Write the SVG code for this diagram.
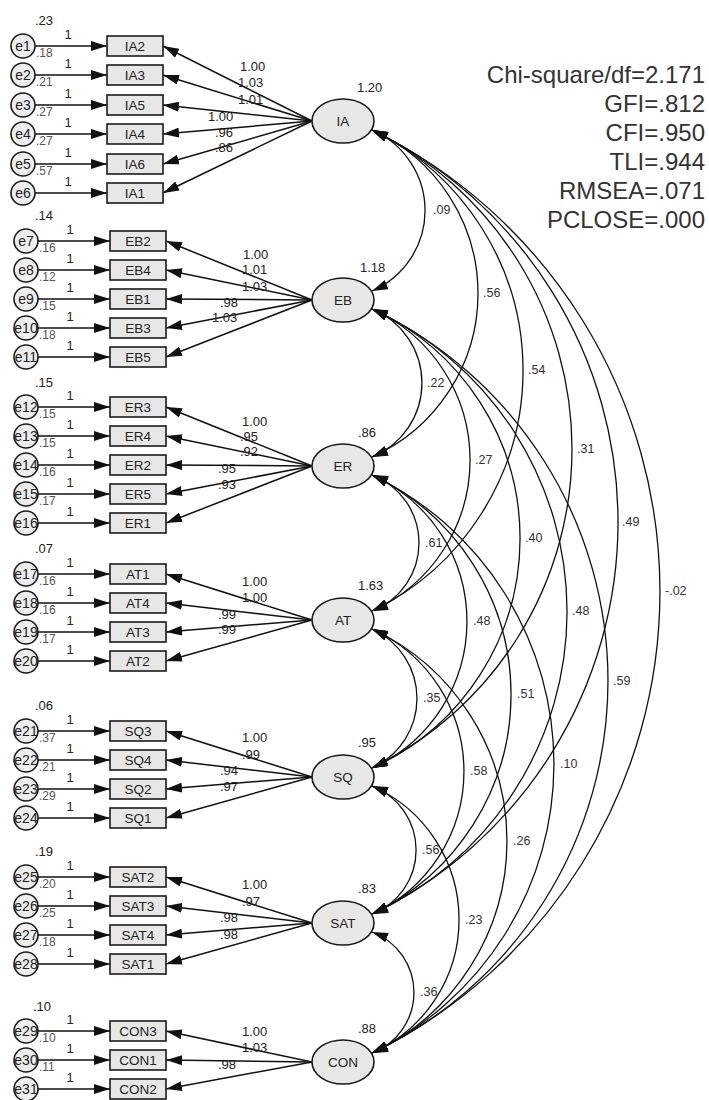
<svg xmlns="http://www.w3.org/2000/svg" width="709" height="1100" viewBox="0 0 709 1100">
<style>
text{font-family:"Liberation Sans",Arial,sans-serif;fill:#222}
.box{fill:#e7e8e6;stroke:#1a1a1a;stroke-width:1.6}
.lat{fill:#e7e8e6;stroke:#1a1a1a;stroke-width:1.6}
.err{fill:#eeeeee;stroke:#1a1a1a;stroke-width:1.6}
.ln{stroke:#111;stroke-width:1.5;fill:none;marker-end:url(#ah)}
.cov{stroke:#111;stroke-width:1.3;fill:none;marker-start:url(#ah);marker-end:url(#ah)}
.bl{font-size:13.5px;text-anchor:middle}
.ll{font-size:13.5px;text-anchor:middle}
.el{font-size:14px;text-anchor:middle}
.n{font-size:13px}
.one{font-size:13px;text-anchor:middle}
.ev{font-size:12px;fill:#555}
.cl{font-size:12.5px;fill:#333}
.fit{font-size:24px;text-anchor:end;fill:#333}
</style>
<defs>
<marker id="ah" viewBox="0 0 16 10" refX="16" refY="5" markerWidth="16" markerHeight="10" markerUnits="userSpaceOnUse" orient="auto-start-reverse"><path d="M0,0 L16,5 L0,10 z" fill="#111"/></marker>
</defs>

<g id="connectors">
<line class="ln" x1="35" y1="46" x2="107" y2="46"/>
<line class="ln" x1="35" y1="75" x2="107" y2="75"/>
<line class="ln" x1="35" y1="105" x2="107" y2="105"/>
<line class="ln" x1="35" y1="134" x2="107" y2="134"/>
<line class="ln" x1="35" y1="164" x2="107" y2="164"/>
<line class="ln" x1="35" y1="193" x2="107" y2="193"/>
<line class="ln" x1="38" y1="241" x2="110" y2="241"/>
<line class="ln" x1="38" y1="270" x2="110" y2="270"/>
<line class="ln" x1="38" y1="299" x2="110" y2="299"/>
<line class="ln" x1="38" y1="328" x2="110" y2="328"/>
<line class="ln" x1="38" y1="357" x2="110" y2="357"/>
<line class="ln" x1="38" y1="407" x2="110" y2="407"/>
<line class="ln" x1="38" y1="436" x2="110" y2="436"/>
<line class="ln" x1="38" y1="465" x2="110" y2="465"/>
<line class="ln" x1="38" y1="494" x2="110" y2="494"/>
<line class="ln" x1="38" y1="523" x2="110" y2="523"/>
<line class="ln" x1="38" y1="574" x2="110" y2="574"/>
<line class="ln" x1="38" y1="603" x2="110" y2="603"/>
<line class="ln" x1="38" y1="632" x2="110" y2="632"/>
<line class="ln" x1="38" y1="661" x2="110" y2="661"/>
<line class="ln" x1="38" y1="731" x2="110" y2="731"/>
<line class="ln" x1="38" y1="760" x2="110" y2="760"/>
<line class="ln" x1="38" y1="789" x2="110" y2="789"/>
<line class="ln" x1="38" y1="818" x2="110" y2="818"/>
<line class="ln" x1="38" y1="877" x2="110" y2="877"/>
<line class="ln" x1="38" y1="906" x2="110" y2="906"/>
<line class="ln" x1="38" y1="935" x2="110" y2="935"/>
<line class="ln" x1="38" y1="964" x2="110" y2="964"/>
<line class="ln" x1="38" y1="1031" x2="110" y2="1031"/>
<line class="ln" x1="38" y1="1060" x2="110" y2="1060"/>
<line class="ln" x1="38" y1="1089" x2="110" y2="1089"/>
<line class="ln" x1="312" y1="121" x2="163" y2="46"/>
<line class="ln" x1="312" y1="121" x2="163" y2="75"/>
<line class="ln" x1="312" y1="121" x2="163" y2="105"/>
<line class="ln" x1="312" y1="121" x2="163" y2="134"/>
<line class="ln" x1="312" y1="121" x2="163" y2="164"/>
<line class="ln" x1="312" y1="121" x2="163" y2="193"/>
<line class="ln" x1="312" y1="300" x2="166" y2="241"/>
<line class="ln" x1="312" y1="300" x2="166" y2="270"/>
<line class="ln" x1="312" y1="300" x2="166" y2="299"/>
<line class="ln" x1="312" y1="300" x2="166" y2="328"/>
<line class="ln" x1="312" y1="300" x2="166" y2="357"/>
<line class="ln" x1="312" y1="466" x2="166" y2="407"/>
<line class="ln" x1="312" y1="466" x2="166" y2="436"/>
<line class="ln" x1="312" y1="466" x2="166" y2="465"/>
<line class="ln" x1="312" y1="466" x2="166" y2="494"/>
<line class="ln" x1="312" y1="466" x2="166" y2="523"/>
<line class="ln" x1="312" y1="620" x2="166" y2="574"/>
<line class="ln" x1="312" y1="620" x2="166" y2="603"/>
<line class="ln" x1="312" y1="620" x2="166" y2="632"/>
<line class="ln" x1="312" y1="620" x2="166" y2="661"/>
<line class="ln" x1="312" y1="777" x2="166" y2="731"/>
<line class="ln" x1="312" y1="777" x2="166" y2="760"/>
<line class="ln" x1="312" y1="777" x2="166" y2="789"/>
<line class="ln" x1="312" y1="777" x2="166" y2="818"/>
<line class="ln" x1="312" y1="923" x2="166" y2="877"/>
<line class="ln" x1="312" y1="923" x2="166" y2="906"/>
<line class="ln" x1="312" y1="923" x2="166" y2="935"/>
<line class="ln" x1="312" y1="923" x2="166" y2="964"/>
<line class="ln" x1="312" y1="1062" x2="166" y2="1031"/>
<line class="ln" x1="312" y1="1062" x2="166" y2="1060"/>
<line class="ln" x1="312" y1="1062" x2="166" y2="1089"/>
<path class="cov" d="M372,130 A87.6,87.6 0 0 1 372,291"/>
<path class="cov" d="M372,130 A179.1,179.1 0 0 1 372,457"/>
<path class="cov" d="M372,130 A267,267 0 0 1 372,611"/>
<path class="cov" d="M372,130 A354.4,354.4 0 0 1 372,768"/>
<path class="cov" d="M372,130 A435.3,435.3 0 0 1 372,914"/>
<path class="cov" d="M372,130 A513.8,513.8 0 0 1 372,1053"/>
<path class="cov" d="M372,309 A79.8,79.8 0 0 1 372,457"/>
<path class="cov" d="M372,309 A165.3,165.3 0 0 1 372,611"/>
<path class="cov" d="M372,309 A251.9,251.9 0 0 1 372,768"/>
<path class="cov" d="M372,309 A332.1,332.1 0 0 1 372,914"/>
<path class="cov" d="M372,309 A411.2,411.2 0 0 1 372,1053"/>
<path class="cov" d="M372,475 A72.7,72.7 0 0 1 372,611"/>
<path class="cov" d="M372,475 A160.5,160.5 0 0 1 372,768"/>
<path class="cov" d="M372,475 A242.8,242.8 0 0 1 372,914"/>
<path class="cov" d="M372,475 A320.5,320.5 0 0 1 372,1053"/>
<path class="cov" d="M372,629 A76.2,76.2 0 0 1 372,768"/>
<path class="cov" d="M372,629 A156.4,156.4 0 0 1 372,914"/>
<path class="cov" d="M372,629 A234,234 0 0 1 372,1053"/>
<path class="cov" d="M372,786 A68.5,68.5 0 0 1 372,914"/>
<path class="cov" d="M372,786 A145.9,145.9 0 0 1 372,1053"/>
<path class="cov" d="M372,932 A64.6,64.6 0 0 1 372,1053"/>
<text class="cl" x="433" y="214">.09</text>
<text class="cl" x="483" y="297">.56</text>
<text class="cl" x="528" y="374">.54</text>
<text class="cl" x="577" y="453">.31</text>
<text class="cl" x="622" y="526">.49</text>
<text class="cl" x="665" y="595">-.02</text>
<text class="cl" x="427" y="387">.22</text>
<text class="cl" x="475" y="464">.27</text>
<text class="cl" x="525" y="542">.40</text>
<text class="cl" x="572" y="615">.48</text>
<text class="cl" x="613" y="685">.59</text>
<text class="cl" x="425" y="547">.61</text>
<text class="cl" x="473" y="625">.48</text>
<text class="cl" x="517" y="698">.51</text>
<text class="cl" x="560" y="768">.10</text>
<text class="cl" x="423" y="702">.35</text>
<text class="cl" x="470" y="775">.58</text>
<text class="cl" x="513" y="845">.26</text>
<text class="cl" x="422" y="854">.56</text>
<text class="cl" x="465" y="924">.23</text>
<text class="cl" x="420" y="996">.36</text>
<text class="n" x="240" y="71">1.00</text>
<text class="n" x="238" y="87">1.03</text>
<text class="n" x="238" y="104">1.01</text>
<text class="n" x="208" y="121">1.00</text>
<text class="n" x="215" y="137">.96</text>
<text class="n" x="215" y="152">.86</text>
<text class="n" x="243" y="259">1.00</text>
<text class="n" x="242" y="274">1.01</text>
<text class="n" x="242" y="291">1.03</text>
<text class="n" x="220" y="307">.98</text>
<text class="n" x="212" y="322">1.03</text>
<text class="n" x="242" y="426">1.00</text>
<text class="n" x="240" y="441">.95</text>
<text class="n" x="240" y="456">.92</text>
<text class="n" x="218" y="473">.95</text>
<text class="n" x="218" y="489">.93</text>
<text class="n" x="242" y="586">1.00</text>
<text class="n" x="242" y="602">1.00</text>
<text class="n" x="218" y="619">.99</text>
<text class="n" x="218" y="634">.99</text>
<text class="n" x="242" y="742">1.00</text>
<text class="n" x="242" y="759">.99</text>
<text class="n" x="220" y="775">.94</text>
<text class="n" x="220" y="791">.97</text>
<text class="n" x="242" y="889">1.00</text>
<text class="n" x="242" y="906">.97</text>
<text class="n" x="220" y="922">.98</text>
<text class="n" x="220" y="939">.98</text>
<text class="n" x="242" y="1036">1.00</text>
<text class="n" x="242" y="1052">1.03</text>
<text class="n" x="218" y="1069">.98</text>
<text class="one" x="68" y="39">1</text>
<text class="one" x="68" y="68">1</text>
<text class="one" x="68" y="98">1</text>
<text class="one" x="68" y="127">1</text>
<text class="one" x="68" y="157">1</text>
<text class="one" x="68" y="186">1</text>
<text class="one" x="70" y="234">1</text>
<text class="one" x="70" y="263">1</text>
<text class="one" x="70" y="292">1</text>
<text class="one" x="70" y="321">1</text>
<text class="one" x="70" y="350">1</text>
<text class="one" x="70" y="400">1</text>
<text class="one" x="70" y="429">1</text>
<text class="one" x="70" y="458">1</text>
<text class="one" x="70" y="487">1</text>
<text class="one" x="70" y="516">1</text>
<text class="one" x="70" y="567">1</text>
<text class="one" x="70" y="596">1</text>
<text class="one" x="70" y="625">1</text>
<text class="one" x="70" y="654">1</text>
<text class="one" x="70" y="724">1</text>
<text class="one" x="70" y="753">1</text>
<text class="one" x="70" y="782">1</text>
<text class="one" x="70" y="811">1</text>
<text class="one" x="70" y="870">1</text>
<text class="one" x="70" y="899">1</text>
<text class="one" x="70" y="928">1</text>
<text class="one" x="70" y="957">1</text>
<text class="one" x="70" y="1024">1</text>
<text class="one" x="70" y="1053">1</text>
<text class="one" x="70" y="1082">1</text>
</g>

<g id="error-variances">
<text class="n" x="35" y="25">.23</text>
<text class="n" x="35" y="220">.14</text>
<text class="n" x="35" y="387">.15</text>
<text class="n" x="35" y="553">.07</text>
<text class="n" x="35" y="710">.06</text>
<text class="n" x="35" y="856">.19</text>
<text class="n" x="33" y="1011">.10</text>
<text class="ev" x="36" y="57">.18</text>
<text class="ev" x="36" y="86">.21</text>
<text class="ev" x="36" y="116">.27</text>
<text class="ev" x="36" y="145">.27</text>
<text class="ev" x="36" y="175">.57</text>
<text class="ev" x="39" y="252">.16</text>
<text class="ev" x="39" y="281">.12</text>
<text class="ev" x="39" y="310">.15</text>
<text class="ev" x="39" y="339">.18</text>
<text class="ev" x="39" y="418">.15</text>
<text class="ev" x="39" y="447">.15</text>
<text class="ev" x="39" y="476">.16</text>
<text class="ev" x="39" y="505">.17</text>
<text class="ev" x="39" y="585">.16</text>
<text class="ev" x="39" y="614">.16</text>
<text class="ev" x="39" y="643">.17</text>
<text class="ev" x="39" y="742">.37</text>
<text class="ev" x="39" y="771">.21</text>
<text class="ev" x="39" y="800">.29</text>
<text class="ev" x="39" y="888">.20</text>
<text class="ev" x="39" y="917">.25</text>
<text class="ev" x="39" y="946">.18</text>
<text class="ev" x="39" y="1042">.10</text>
<text class="ev" x="39" y="1071">.11</text>
</g>

<g id="e1"><circle class="err" cx="23" cy="46" r="12"/><text class="el" x="23" y="51">e1</text></g>
<g id="e2"><circle class="err" cx="23" cy="75" r="12"/><text class="el" x="23" y="80">e2</text></g>
<g id="e3"><circle class="err" cx="23" cy="105" r="12"/><text class="el" x="23" y="110">e3</text></g>
<g id="e4"><circle class="err" cx="23" cy="134" r="12"/><text class="el" x="23" y="139">e4</text></g>
<g id="e5"><circle class="err" cx="23" cy="164" r="12"/><text class="el" x="23" y="169">e5</text></g>
<g id="e6"><circle class="err" cx="23" cy="193" r="12"/><text class="el" x="23" y="198">e6</text></g>
<g id="e7"><circle class="err" cx="26" cy="241" r="12"/><text class="el" x="26" y="246">e7</text></g>
<g id="e8"><circle class="err" cx="26" cy="270" r="12"/><text class="el" x="26" y="275">e8</text></g>
<g id="e9"><circle class="err" cx="26" cy="299" r="12"/><text class="el" x="26" y="304">e9</text></g>
<g id="e10"><circle class="err" cx="26" cy="328" r="12"/><text class="el" x="26" y="333">e10</text></g>
<g id="e11"><circle class="err" cx="26" cy="357" r="12"/><text class="el" x="26" y="362">e11</text></g>
<g id="e12"><circle class="err" cx="26" cy="407" r="12"/><text class="el" x="26" y="412">e12</text></g>
<g id="e13"><circle class="err" cx="26" cy="436" r="12"/><text class="el" x="26" y="441">e13</text></g>
<g id="e14"><circle class="err" cx="26" cy="465" r="12"/><text class="el" x="26" y="470">e14</text></g>
<g id="e15"><circle class="err" cx="26" cy="494" r="12"/><text class="el" x="26" y="499">e15</text></g>
<g id="e16"><circle class="err" cx="26" cy="523" r="12"/><text class="el" x="26" y="528">e16</text></g>
<g id="e17"><circle class="err" cx="26" cy="574" r="12"/><text class="el" x="26" y="579">e17</text></g>
<g id="e18"><circle class="err" cx="26" cy="603" r="12"/><text class="el" x="26" y="608">e18</text></g>
<g id="e19"><circle class="err" cx="26" cy="632" r="12"/><text class="el" x="26" y="637">e19</text></g>
<g id="e20"><circle class="err" cx="26" cy="661" r="12"/><text class="el" x="26" y="666">e20</text></g>
<g id="e21"><circle class="err" cx="26" cy="731" r="12"/><text class="el" x="26" y="736">e21</text></g>
<g id="e22"><circle class="err" cx="26" cy="760" r="12"/><text class="el" x="26" y="765">e22</text></g>
<g id="e23"><circle class="err" cx="26" cy="789" r="12"/><text class="el" x="26" y="794">e23</text></g>
<g id="e24"><circle class="err" cx="26" cy="818" r="12"/><text class="el" x="26" y="823">e24</text></g>
<g id="e25"><circle class="err" cx="26" cy="877" r="12"/><text class="el" x="26" y="882">e25</text></g>
<g id="e26"><circle class="err" cx="26" cy="906" r="12"/><text class="el" x="26" y="911">e26</text></g>
<g id="e27"><circle class="err" cx="26" cy="935" r="12"/><text class="el" x="26" y="940">e27</text></g>
<g id="e28"><circle class="err" cx="26" cy="964" r="12"/><text class="el" x="26" y="969">e28</text></g>
<g id="e29"><circle class="err" cx="26" cy="1031" r="12"/><text class="el" x="26" y="1036">e29</text></g>
<g id="e30"><circle class="err" cx="26" cy="1060" r="12"/><text class="el" x="26" y="1065">e30</text></g>
<g id="e31"><circle class="err" cx="26" cy="1089" r="12"/><text class="el" x="26" y="1094">e31</text></g>

<g id="IA2"><rect class="box" x="107" y="36" width="56" height="20"/><text class="bl" x="135" y="51">IA2</text></g>
<g id="IA3"><rect class="box" x="107" y="65" width="56" height="20"/><text class="bl" x="135" y="80">IA3</text></g>
<g id="IA5"><rect class="box" x="107" y="95" width="56" height="20"/><text class="bl" x="135" y="110">IA5</text></g>
<g id="IA4"><rect class="box" x="107" y="124" width="56" height="20"/><text class="bl" x="135" y="139">IA4</text></g>
<g id="IA6"><rect class="box" x="107" y="154" width="56" height="20"/><text class="bl" x="135" y="169">IA6</text></g>
<g id="IA1"><rect class="box" x="107" y="183" width="56" height="20"/><text class="bl" x="135" y="198">IA1</text></g>
<g id="EB2"><rect class="box" x="110" y="231" width="56" height="20"/><text class="bl" x="138" y="246">EB2</text></g>
<g id="EB4"><rect class="box" x="110" y="260" width="56" height="20"/><text class="bl" x="138" y="275">EB4</text></g>
<g id="EB1"><rect class="box" x="110" y="289" width="56" height="20"/><text class="bl" x="138" y="304">EB1</text></g>
<g id="EB3"><rect class="box" x="110" y="318" width="56" height="20"/><text class="bl" x="138" y="333">EB3</text></g>
<g id="EB5"><rect class="box" x="110" y="347" width="56" height="20"/><text class="bl" x="138" y="362">EB5</text></g>
<g id="ER3"><rect class="box" x="110" y="397" width="56" height="20"/><text class="bl" x="138" y="412">ER3</text></g>
<g id="ER4"><rect class="box" x="110" y="426" width="56" height="20"/><text class="bl" x="138" y="441">ER4</text></g>
<g id="ER2"><rect class="box" x="110" y="455" width="56" height="20"/><text class="bl" x="138" y="470">ER2</text></g>
<g id="ER5"><rect class="box" x="110" y="484" width="56" height="20"/><text class="bl" x="138" y="499">ER5</text></g>
<g id="ER1"><rect class="box" x="110" y="513" width="56" height="20"/><text class="bl" x="138" y="528">ER1</text></g>
<g id="AT1"><rect class="box" x="110" y="564" width="56" height="20"/><text class="bl" x="138" y="579">AT1</text></g>
<g id="AT4"><rect class="box" x="110" y="593" width="56" height="20"/><text class="bl" x="138" y="608">AT4</text></g>
<g id="AT3"><rect class="box" x="110" y="622" width="56" height="20"/><text class="bl" x="138" y="637">AT3</text></g>
<g id="AT2"><rect class="box" x="110" y="651" width="56" height="20"/><text class="bl" x="138" y="666">AT2</text></g>
<g id="SQ3"><rect class="box" x="110" y="721" width="56" height="20"/><text class="bl" x="138" y="736">SQ3</text></g>
<g id="SQ4"><rect class="box" x="110" y="750" width="56" height="20"/><text class="bl" x="138" y="765">SQ4</text></g>
<g id="SQ2"><rect class="box" x="110" y="779" width="56" height="20"/><text class="bl" x="138" y="794">SQ2</text></g>
<g id="SQ1"><rect class="box" x="110" y="808" width="56" height="20"/><text class="bl" x="138" y="823">SQ1</text></g>
<g id="SAT2"><rect class="box" x="110" y="867" width="56" height="20"/><text class="bl" x="138" y="882">SAT2</text></g>
<g id="SAT3"><rect class="box" x="110" y="896" width="56" height="20"/><text class="bl" x="138" y="911">SAT3</text></g>
<g id="SAT4"><rect class="box" x="110" y="925" width="56" height="20"/><text class="bl" x="138" y="940">SAT4</text></g>
<g id="SAT1"><rect class="box" x="110" y="954" width="56" height="20"/><text class="bl" x="138" y="969">SAT1</text></g>
<g id="CON3"><rect class="box" x="110" y="1021" width="56" height="20"/><text class="bl" x="138" y="1036">CON3</text></g>
<g id="CON1"><rect class="box" x="110" y="1050" width="56" height="20"/><text class="bl" x="138" y="1065">CON1</text></g>
<g id="CON2"><rect class="box" x="110" y="1079" width="56" height="20"/><text class="bl" x="138" y="1094">CON2</text></g>

<g id="IA"><ellipse class="lat" cx="343" cy="121" rx="31" ry="22"/><text class="ll" x="343" y="126">IA</text><text class="n" x="357" y="92">1.20</text></g>
<g id="EB"><ellipse class="lat" cx="343" cy="300" rx="31" ry="22"/><text class="ll" x="343" y="305">EB</text><text class="n" x="360" y="272">1.18</text></g>
<g id="ER"><ellipse class="lat" cx="343" cy="466" rx="31" ry="22"/><text class="ll" x="343" y="471">ER</text><text class="n" x="358" y="437">.86</text></g>
<g id="AT"><ellipse class="lat" cx="343" cy="620" rx="31" ry="22"/><text class="ll" x="343" y="625">AT</text><text class="n" x="358" y="590">1.63</text></g>
<g id="SQ"><ellipse class="lat" cx="343" cy="777" rx="31" ry="22"/><text class="ll" x="343" y="782">SQ</text><text class="n" x="358" y="747">.95</text></g>
<g id="SAT"><ellipse class="lat" cx="343" cy="923" rx="31" ry="22"/><text class="ll" x="343" y="928">SAT</text><text class="n" x="358" y="893">.83</text></g>
<g id="CON"><ellipse class="lat" cx="343" cy="1062" rx="31" ry="22"/><text class="ll" x="343" y="1067">CON</text><text class="n" x="358" y="1033">.88</text></g>

<g id="fit">
<text class="fit" x="705" y="83">Chi-square/df=2.171</text>
<text class="fit" x="705" y="112">GFI=.812</text>
<text class="fit" x="705" y="141">CFI=.950</text>
<text class="fit" x="705" y="170">TLI=.944</text>
<text class="fit" x="705" y="199">RMSEA=.071</text>
<text class="fit" x="705" y="228">PCLOSE=.000</text>
</g>
</svg>
